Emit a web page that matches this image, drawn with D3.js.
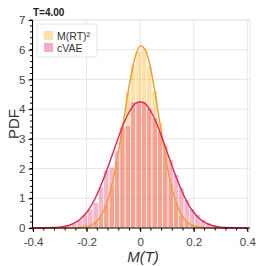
<!DOCTYPE html>
<html>
  <head>
    <meta charset="UTF-8">
    <script src="https://d3js.org/d3.v7.min.js"></script>
    <style type="text/css">
      body { margin: 0px; padding: 0px; background: #fff; }
      svg { font-family: "Liberation Sans", Arial, sans-serif; }
    </style>
  </head>
  <body>
    <div id="chart"></div>
    <script>
      // histogram bins (shared by both series)
      const binEdges = [-0.296, -0.276, -0.256, -0.236, -0.216, -0.196, -0.176, -0.156, -0.136, -0.116,
                        -0.096, -0.076, -0.056, -0.036, -0.016, 0.004, 0.024, 0.044, 0.064, 0.084,
                        0.104, 0.124, 0.144, 0.164, 0.184, 0.204, 0.224, 0.244, 0.264, 0.284, 0.304];
      const histRT  = [0, 0, 0.005, 0.01, 0.03, 0.07, 0.18, 0.38, 0.78, 1.40,
                       2.25, 3.45, 4.60, 5.50, 5.95, 6.05, 5.45, 4.62, 3.55, 2.45,
                       1.48, 0.86, 0.43, 0.21, 0.09, 0.035, 0.012, 0.004, 0, 0];
      const histVAE = [0.04, 0.08, 0.16, 0.28, 0.45, 0.62, 0.85, 1.38, 1.95, 2.05,
                       2.60, 3.40, 3.45, 4.25, 4.27, 4.27, 4.04, 3.70, 3.25, 2.80,
                       2.30, 1.80, 1.35, 0.95, 0.65, 0.45, 0.28, 0.17, 0.09, 0.04];
      // smoothed density curves
      const curveX = [-0.40, -0.38, -0.36, -0.34, -0.32, -0.30, -0.28, -0.26, -0.24, -0.22,
                      -0.20, -0.18, -0.16, -0.14, -0.12, -0.10, -0.08, -0.06, -0.04, -0.02,
                      0.00, 0.02, 0.04, 0.06, 0.08, 0.10, 0.12, 0.14, 0.16, 0.18,
                      0.20, 0.22, 0.24, 0.26, 0.28, 0.30, 0.32, 0.34, 0.36, 0.38, 0.40];
      const curveRT  = [0, 0, 0, 0, 0, 0, 0.0004, 0.0015, 0.005, 0.015,
                        0.043, 0.107, 0.245, 0.511, 0.968, 1.669, 2.616, 3.730, 4.840, 5.711,
                        6.13, 5.99, 5.32, 4.30, 3.16, 2.11, 1.285, 0.711, 0.358, 0.164,
                        0.068, 0.026, 0.009, 0.003, 0.001, 0, 0, 0, 0, 0, 0];
      const curveVAE = [0, 0.001, 0.003, 0.007, 0.015, 0.03, 0.06, 0.11, 0.20, 0.33,
                        0.52, 0.79, 1.15, 1.58, 2.06, 2.57, 3.08, 3.55, 3.92, 4.17,
                        4.25, 4.17, 3.92, 3.55, 3.08, 2.57, 2.06, 1.58, 1.15, 0.79,
                        0.52, 0.33, 0.20, 0.11, 0.06, 0.03, 0.015, 0.007, 0.003, 0.001, 0];
      const xTicks = [-0.4, -0.2, 0, 0.2, 0.4];
      const xTickLabels = ["-0.4", "-0.2", "0", "0.2", "0.4"];
      const yTicks = [0, 1, 2, 3, 4, 5, 6, 7];
      const seriesNames = ["M(RT)\u00b2", "cVAE"];
      const titleText = "T=4.00";

      const width = 266, height = 266;
      const x = d3.scaleLinear().domain([-0.402, 0.41]).range([32.5, 250]);
      const y = d3.scaleLinear().domain([0, 7]).range([228, 20]);

      const svg = d3.select("#chart").append("svg")
        .attr("width", width).attr("height", height);

      // grid
      const grid = svg.append("g").attr("stroke", "#e6e6e6").attr("stroke-width", 1);
      xTicks.forEach(t => grid.append("line")
        .attr("x1", x(t)).attr("x2", x(t)).attr("y1", y(0)).attr("y2", y(7)));
      yTicks.forEach(t => grid.append("line")
        .attr("x1", x.range()[0]).attr("x2", x.range()[1]).attr("y1", y(t)).attr("y2", y(t)));
      // top + right frame
      svg.append("path")
        .attr("d", `M${x.range()[0]},${y(7)}H${x.range()[1]}V${y(0)}`)
        .attr("fill", "none").attr("stroke", "#e6e6e6");

      const bins = d3.range(binEdges.length - 1).map(i => ({ x0: binEdges[i], x1: binEdges[i + 1] }));

      const drawHist = (vals, fill, alpha) => {
        svg.append("g").selectAll("rect").data(bins).enter().append("rect")
          .attr("x", d => x(d.x0))
          .attr("width", d => x(d.x1) - x(d.x0))
          .attr("y", (d, i) => y(vals[i]))
          .attr("height", (d, i) => y(0) - y(vals[i]))
          .attr("fill", fill).attr("fill-opacity", alpha)
          .attr("stroke", "#fff").attr("stroke-width", 0.6);
      };
      drawHist(histRT, "#ffa500", 0.35);
      drawHist(histVAE, "#e8245a", 0.33);

      const line = vals => d3.line()
        .x((d, i) => x(d))
        .y((d, i) => y(vals[i]))
        .curve(d3.curveMonotoneX)(curveX);
      svg.append("path").attr("d", line(curveRT))
        .attr("fill", "none").attr("stroke", "#f79a2a").attr("stroke-width", 1.4);
      svg.append("path").attr("d", line(curveVAE))
        .attr("fill", "none").attr("stroke", "#e3245a").attr("stroke-width", 1.4);

      // axes
      const xAxis = svg.append("g").attr("transform", `translate(0,${y(0)})`)
        .call(d3.axisBottom(x).tickValues(xTicks).tickSize(4).tickFormat((d, i) => xTickLabels[i]));
      xAxis.append("g").selectAll("line").data(d3.range(-0.4, 0.401, 0.04)).enter().append("line")
        .attr("x1", d => x(d)).attr("x2", d => x(d)).attr("y1", 0).attr("y2", 2.5)
        .attr("stroke", "#000");
      xAxis.select(".domain").attr("d", `M${x.range()[0]},0H${x.range()[1]}`);

      const yAxis = svg.append("g").attr("transform", `translate(${x.range()[0]},0)`)
        .call(d3.axisLeft(y).tickValues(yTicks).tickSize(4).tickFormat(d3.format("d")));
      yAxis.append("g").selectAll("line").data(d3.range(0, 7.001, 0.2)).enter().append("line")
        .attr("y1", d => y(d)).attr("y2", d => y(d)).attr("x1", 0).attr("x2", -2.5)
        .attr("stroke", "#000");
      yAxis.select(".domain").attr("d", `M0,${y(0)}V${y(7)}`);

      [xAxis, yAxis].forEach(a => {
        a.selectAll("text").attr("font-size", 11.5).attr("fill", "#444")
          .attr("font-family", "Liberation Sans, Arial, sans-serif");
        a.selectAll(".tick line").attr("stroke", "#000");
        a.select(".domain").attr("stroke", "#000");
      });
      xAxis.selectAll(".tick text").attr("dy", "0.95em");

      // labels
      svg.append("text").attr("transform", `translate(19,${(y(0) + y(7)) / 2}) rotate(-90)`)
        .attr("text-anchor", "middle").attr("font-size", 15).attr("fill", "#333").text("PDF");
      svg.append("text").attr("x", 143).attr("y", 262)
        .attr("text-anchor", "middle").attr("font-size", 15).attr("font-style", "italic")
        .attr("fill", "#333").text("M(T)");
      svg.append("text").attr("x", 33).attr("y", 16)
        .attr("font-size", 10).attr("font-weight", "bold").attr("fill", "#222").text(titleText);

      // legend
      const legend = svg.append("g").attr("transform", "translate(37,24)");
      legend.append("rect").attr("width", 60).attr("height", 33).attr("rx", 2)
        .attr("fill", "#fff").attr("fill-opacity", 0.85).attr("stroke", "#e4e4e4");
      const swatch = [["#ffa500", 0.35], ["#e8245a", 0.38]];
      seriesNames.forEach((name, i) => {
        legend.append("rect").attr("x", 7).attr("y", 7 + i * 12).attr("width", 9).attr("height", 9)
          .attr("fill", swatch[i][0]).attr("fill-opacity", swatch[i][1]);
        legend.append("text").attr("x", 20).attr("y", 15.5 + i * 12)
          .attr("font-size", 10.5).attr("fill", "#333").text(name);
      });
    </script>
  </body>
</html>
